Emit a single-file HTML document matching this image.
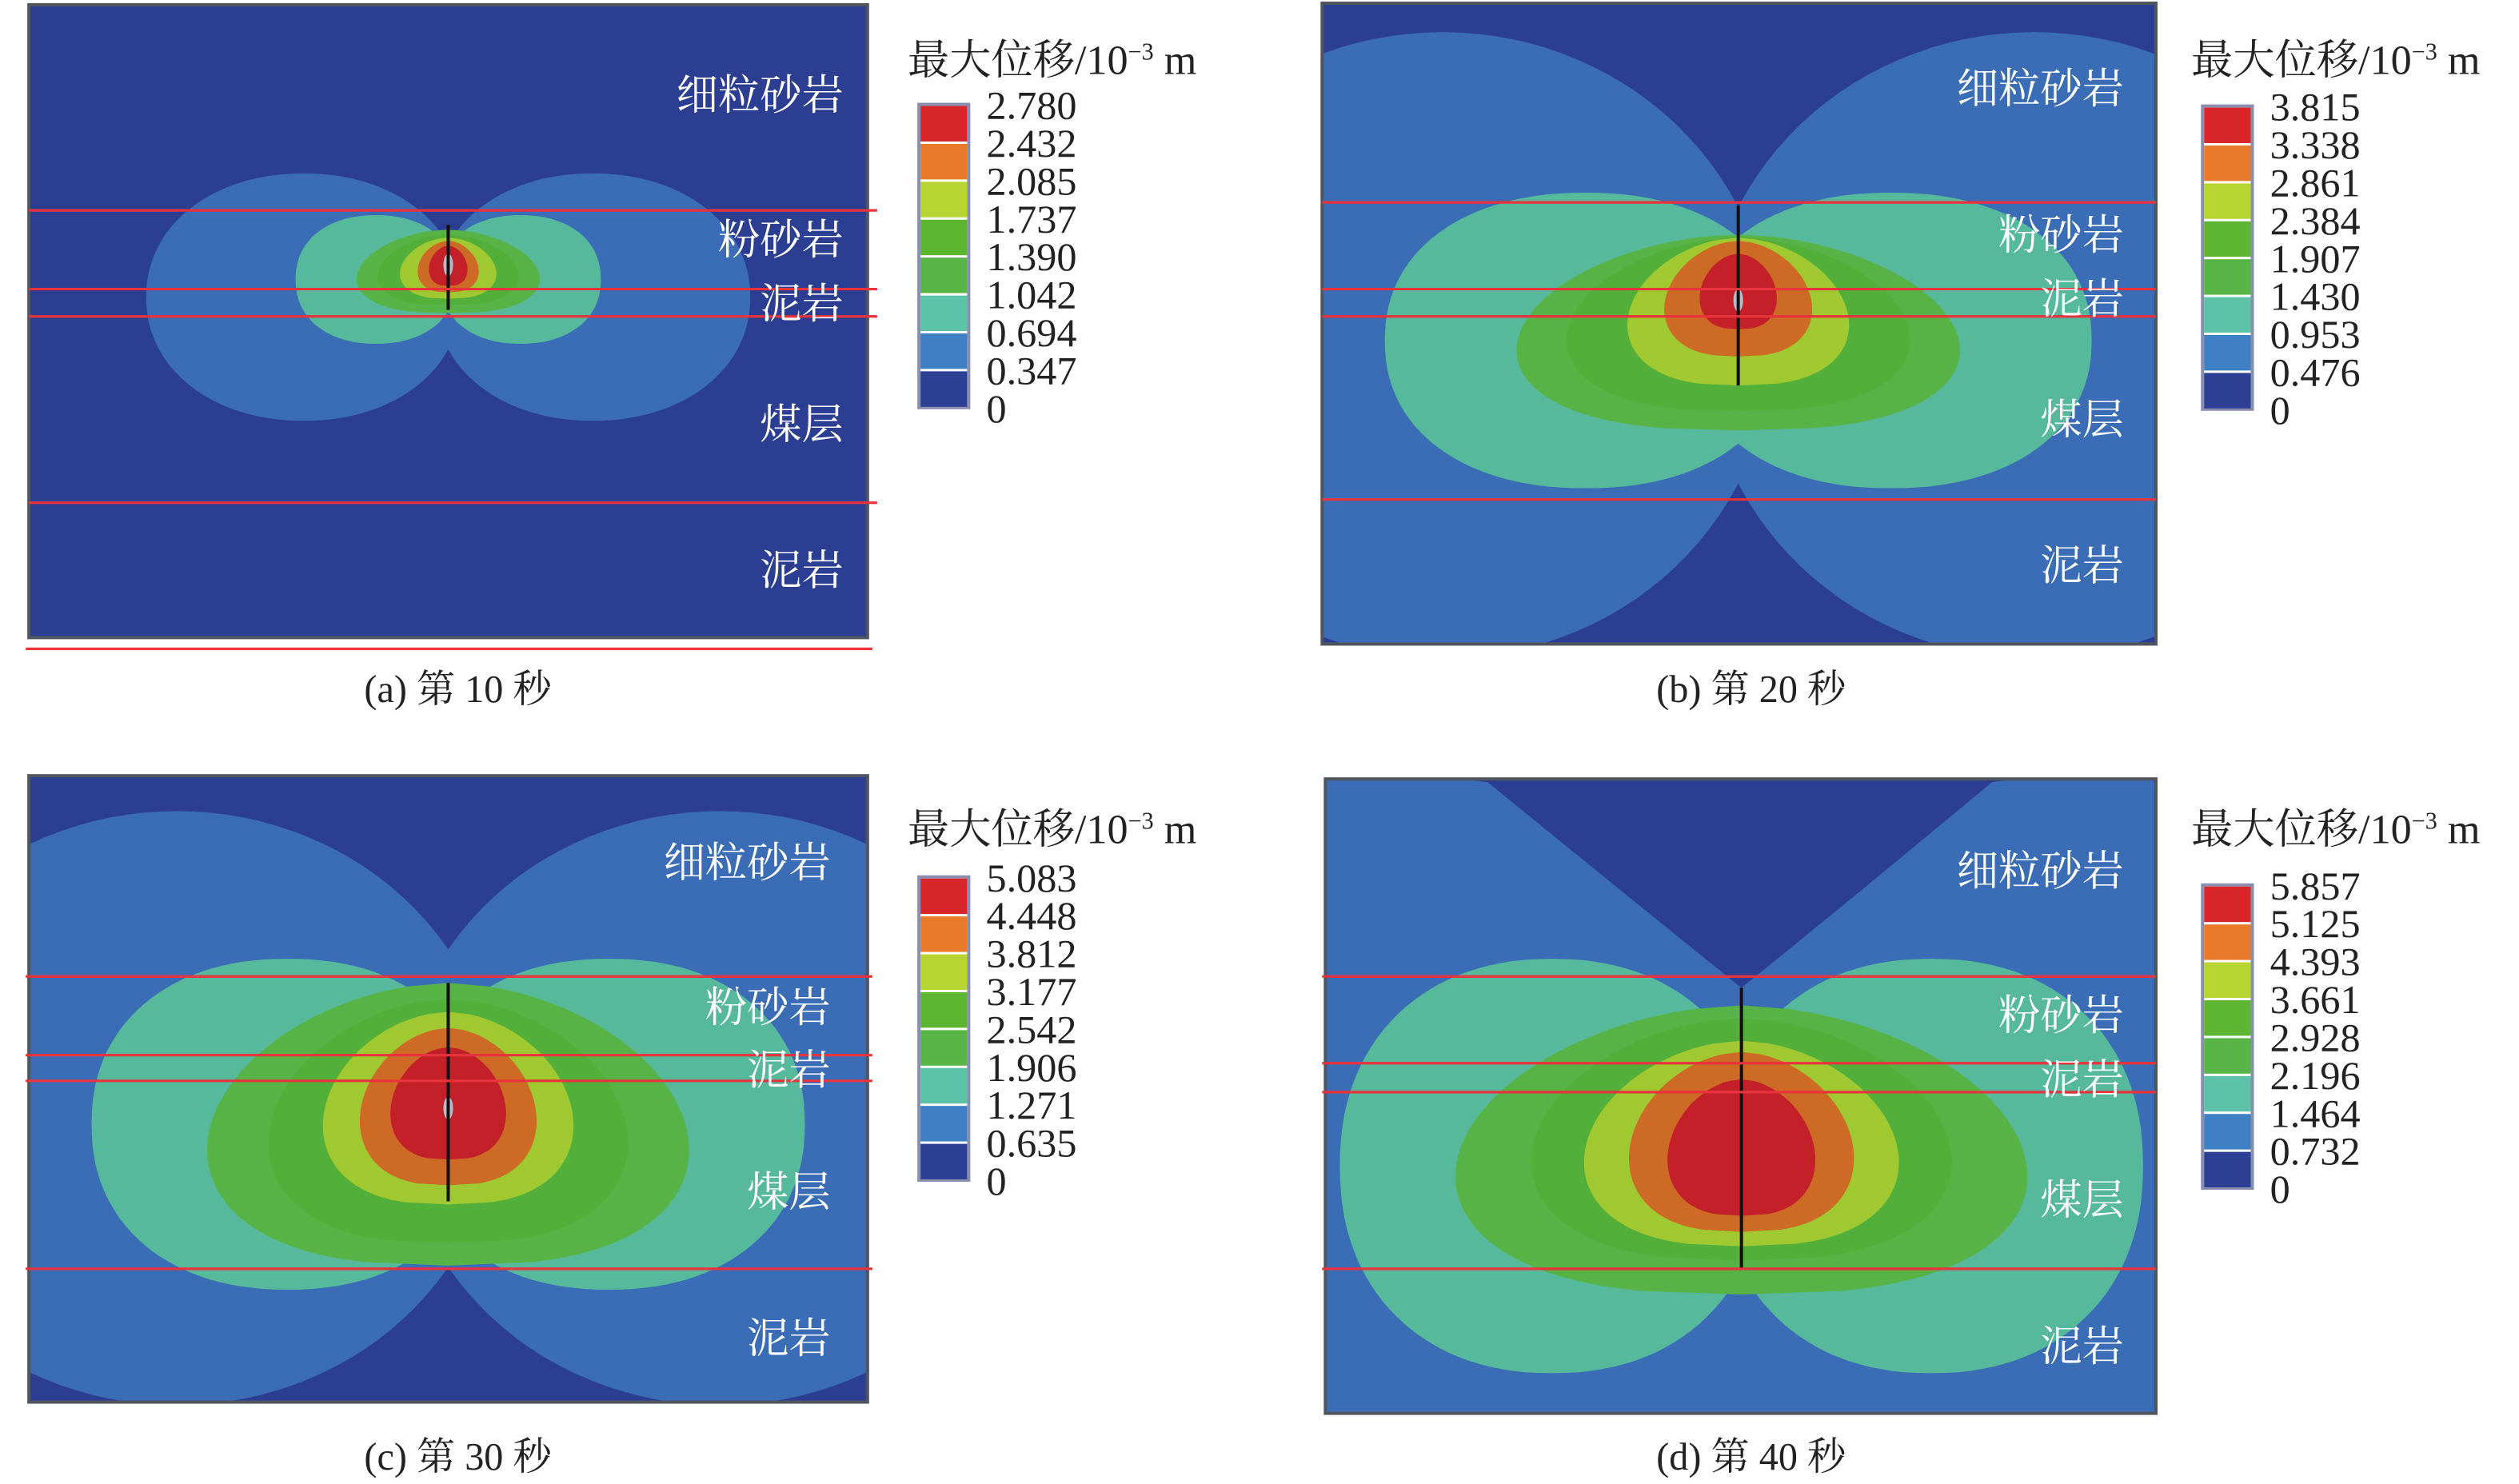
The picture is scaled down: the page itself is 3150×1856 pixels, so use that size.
<!DOCTYPE html>
<html><head><meta charset="utf-8">
<style>
html,body{margin:0;padding:0;background:#fff;}
svg{display:block;}
text{font-family:"Liberation Serif","Noto Serif CJK SC",serif;}
</style></head>
<body>
<svg id="fig" width="3150" height="1856" viewBox="0 0 1568 924" preserveAspectRatio="none" xmlns="http://www.w3.org/2000/svg"></svg>
<script>
// legend values per panel (10^-3 m)
const legendA = ["2.780","2.432","2.085","1.737","1.390","1.042","0.694","0.347","0"];
const legendB = ["3.815","3.338","2.861","2.384","1.907","1.430","0.953","0.476","0"];
const legendC = ["5.083","4.448","3.812","3.177","2.542","1.906","1.271","0.635","0"];
const legendD = ["5.857","5.125","4.393","3.661","2.928","2.196","1.464","0.732","0"];
const captions = ["(a) 第 10 秒","(b) 第 20 秒","(c) 第 30 秒","(d) 第 40 秒"];
const layerNames = ["细粒砂岩","粉砂岩","泥岩","煤层","泥岩"];
// contour band extents: lobes [level, dx, rx, cy, ry, n], teardrops [level, top, bottom, halfwidth]
const lobesA = [[1,90,98,185,77,2.1],[2,45,50,174,40,2.2]];
const dropsA = [[3,143,195,57],[4,146,190,44],[5,148,186,30],[6,150,182,19],[7,153,178,12]];
const lobesB = [[1,184,205,215,195,2],[2,95,125,212,92,2.2]];
const dropsB = [[3,146,268,138],[4,148,256,107],[5,148,240,69],[6,150,222,46],[7,158,205,24]];
const lobesC = [[1,169,200,690,185,2],[2,100,122,700,103,2.2]];
const dropsC = [[3,612,788,150],[4,622,774,112],[5,630,750,78],[6,640,738,55],[7,652,722,36]];
const lobesD = [[2,118,132,726,129,2.2]];
const dropsD = [[3,626,806,178],[4,634,785,131],[5,648,776,98],[6,655,767,70],[7,672,757,46]];

const mapColors = ["#2c3e92","#3b6db6","#56b99c","#58b346","#52b03a","#a0c830","#cd6a25","#c4202a"];
const legColors = ["#d9262b","#e87a2a","#b8d433","#5db531","#58b444","#5cc2a8","#3f7fc4","#2d3f92"];

const panels = [
 {x:18,y:3,w:522,h:394,cx:279,bg:0,legend:legendA,lobes:lobesA,drops:dropsA,lines:[131,180,197,313],lx0:18,lx1:546,extra:404,crack:[140,193],legX:572,legY:65,titleY:46,labels:[[525,68],[525,158],[525,198],[525,273],[525,364]],cap:[285,437],gray:[279,165],vtop:null},
 {x:823,y:2,w:519,h:399,cx:1082,bg:0,legend:legendB,lobes:lobesB,drops:dropsB,lines:[126,180,197,311],lx0:823,lx1:1342,crack:[128,240],legX:1371,legY:66,titleY:46,labels:[[1322,64],[1322,155],[1322,195],[1322,270],[1322,361]],cap:[1090,437],gray:[1082,187],vtop:null},
 {x:18,y:483,w:522,h:390,cx:279,bg:0,legend:legendC,lobes:lobesC,drops:dropsC,lines:[608,657,673,790],lx0:16,lx1:543,crack:[612,748],legX:572,legY:546,titleY:525,labels:[[517,546],[517,636],[517,675],[517,751],[517,842]],cap:[285,915],gray:[279,690],vtop:null},
 {x:825,y:485,w:517,h:395,cx:1084,bg:1,legend:legendD,lobes:lobesD,drops:dropsD,lines:[608,662,680,790],lx0:823,lx1:1342,crack:[615,790],legX:1371,legY:551,titleY:525,labels:[[1322,551],[1322,641],[1322,681],[1322,756],[1322,847]],cap:[1090,915],gray:null,vtop:[926,1240,487,615]}
];
const NS="http://www.w3.org/2000/svg";
const svg=document.getElementById('fig');
function mk(tag,attrs,parent){const e=document.createElementNS(NS,tag);for(const k in attrs)e.setAttribute(k,attrs[k]);(parent||svg).appendChild(e);return e;}
function superEllipse(cx,cy,rx,ry,n){let d="";for(let i=0;i<=120;i++){const t=i/120*2*Math.PI;const c=Math.cos(t),s=Math.sin(t);const x=cx+rx*Math.sign(c)*Math.pow(Math.abs(c),2/n);const y=cy+ry*Math.sign(s)*Math.pow(Math.abs(s),2/n);d+=(i?"L":"M")+x.toFixed(1)+","+y.toFixed(1);}return d+"Z";}
function drop(cx,top,bot,hw){
 const a=0.55,b=0.38;const N=80;const prof=[];let mx=0;
 for(let i=0;i<=N;i++){const s=i/N;const w=Math.pow(s,a)*Math.pow(1-s,b);mx=Math.max(mx,w);prof.push([s,w]);}
 let d="";
 prof.forEach((p,i)=>{d+=(i?"L":"M")+(cx+hw*p[1]/mx).toFixed(1)+","+(top+(bot-top)*p[0]).toFixed(1);});
 for(let i=prof.length-1;i>=0;i--){const p=prof[i];d+="L"+(cx-hw*p[1]/mx).toFixed(1)+","+(top+(bot-top)*p[0]).toFixed(1);}
 return d+"Z";}

panels.forEach((p,pi)=>{
 const g=mk('g',{});
 
 
 const cid='clip'+pi;
 const cp=mk('clipPath',{id:cid},svg);mk('rect',{x:p.x,y:p.y,width:p.w,height:p.h},cp);
 const m=mk('g',{'clip-path':'url(#'+cid+')'},g);
 mk('rect',{x:p.x,y:p.y,width:p.w,height:p.h,fill:mapColors[p.bg]},m);
 if(p.vtop){const v=p.vtop;const mid=p.cx;mk('path',{d:`M${v[0]-40},${v[2]-5}L${v[1]+40},${v[2]-5}L${v[1]},${v[2]}Q${mid+50},${v[3]-40} ${mid},${v[3]}Q${mid-50},${v[3]-40} ${v[0]},${v[2]}Z`,fill:mapColors[0]},m);}
 p.lobes.forEach(l=>{[-1,1].forEach(sd=>{const e=mk('path',{d:superEllipse(p.cx+sd*l[1],l[3],l[2],l[4],l[5]),fill:mapColors[l[0]]},m);});});
 p.drops.forEach(dd=>{const e=mk('path',{d:drop(p.cx,dd[1],dd[2],dd[3]),fill:mapColors[dd[0]]},m);});
 if(p.gray)mk('ellipse',{cx:p.gray[0],cy:p.gray[1],rx:3,ry:7,fill:'#b8bcc8'},m);
 const ck=mk('line',{x1:p.cx,x2:p.cx,y1:p.crack[0],y2:p.crack[1],stroke:'#111',"stroke-width":2},m);
 
 mk('rect',{x:p.x,y:p.y,width:p.w,height:p.h,fill:'none',stroke:'#50555e',"stroke-width":2},g);
 p.lines.forEach(y=>{const l=mk('line',{x1:p.lx0,x2:p.lx1,y1:y,y2:y,stroke:'#e8323c',"stroke-width":1.6},g);});
 if(p.extra){const l=mk('line',{x1:16,x2:543,y1:p.extra,y2:p.extra,stroke:'#e8323c',"stroke-width":1.6},g);}
 p.labels.forEach((lb,i)=>{const t=mk('text',{x:lb[0],y:lb[1],'text-anchor':'end','font-size':26,fill:'#fff',style:'font-family:"Noto Serif CJK SC",serif'},g);t.textContent=layerNames[i];});
 const lg=mk('g',{},g);
 const tt=mk('text',{x:p.legX-7,y:p.titleY,'font-size':26,fill:'#222'},lg);
 tt.innerHTML='最大位移/10<tspan dy="-9" font-size="15">−3</tspan><tspan dy="9"> m</tspan>';
 
 const sh=23.6;
 mk('rect',{x:p.legX,y:p.legY,width:31,height:sh*8,fill:'none',stroke:'#8a8fb0',"stroke-width":2},lg);
 legColors.forEach((c,i)=>{const r=mk('rect',{x:p.legX+1,y:p.legY+i*sh+1,width:29,height:sh-1.5,fill:c},lg);});
 p.legend.forEach((v,i)=>{const t=mk('text',{x:p.legX+42,y:p.legY+i*sh+9,'font-size':25,fill:'#222'},lg);t.textContent=v;});
 const cap=mk('text',{x:p.cap[0],y:p.cap[1],'text-anchor':'middle','font-size':24,fill:'#222'},g);cap.textContent=captions[pi];
 
});
</script>
</body></html>
